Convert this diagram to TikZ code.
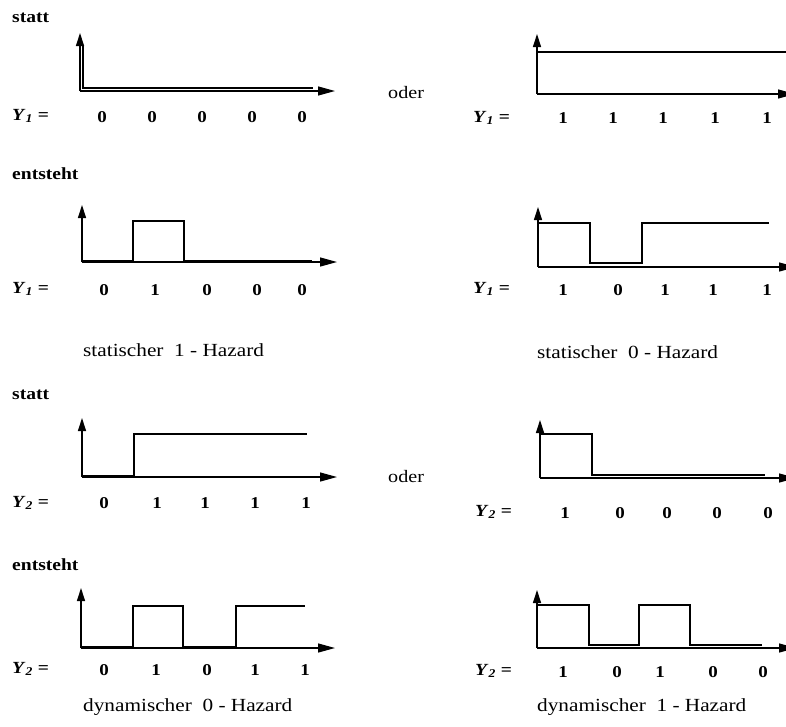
\documentclass[tikz,border=0pt]{standalone}
\usepackage{fontspec}
\setmainfont{Liberation Serif}[FakeStretch=1.15]
\usetikzlibrary{arrows.meta}
\begin{document}
\begin{tikzpicture}[x=1pt,y=-1pt,
  axis/.style={line width=1.3pt},
  xaxis/.style={axis,-{Triangle[length=17pt,width=9pt]}},
  yaxis/.style={axis,-{Triangle[length=13pt,width=8pt]}},
  sig/.style={line width=2pt,line join=miter},
  head/.style={font=\fontsize{17}{17}\selectfont\bfseries,anchor=west,inner sep=0pt},
  oder/.style={font=\fontsize{17.5}{17}\selectfont,anchor=west,inner sep=0pt},
  ylab/.style={font=\fontsize{17}{17}\selectfont\bfseries,anchor=west,inner sep=0pt},
  val/.style={font=\fontsize{16.5}{16}\selectfont\bfseries,inner sep=0pt},
  haz/.style={font=\fontsize{18.5}{18}\selectfont,anchor=west,inner sep=0pt}]
\useasboundingbox (0,0) rectangle (786,726);
% ---------------- Row 1 ----------------
\node[head] (statt1) at (12,18) {statt};
\node[oder] (oder1) at (388,93) {oder};
% left
\draw[yaxis] (80,91) -- (80,33);
\draw[xaxis] (80,91) -- (335,91);
\draw[sig,line width=1.6pt] (83,46) -- (83,88) -- (313,88);
\node[ylab] (y1a) at (12,116) {\textit{Y}\textsubscript{\textit{1}} =};
\foreach \x/\v [count=\i] in {102/0,152/0,202/0,252/0,302/0}
  \node[val] (v1a\i) at (\x,117) {\v};
% right
\draw[yaxis] (537,94) -- (537,34);
\draw[xaxis] (537,94) -- (795,94);
\draw[sig,line width=1.6pt] (537,52) -- (786,52);
\node[ylab] (y1b) at (473,118) {\textit{Y}\textsubscript{\textit{1}} =};
\foreach \x/\v [count=\i] in {563/1,613/1,663/1,715/1,767/1}
  \node[val] (v1b\i) at (\x,118) {\v};
% ---------------- Row 2 ----------------
\node[head] (ent1) at (12,174) {entsteht};
% left
\draw[yaxis] (82,262) -- (82,205);
\draw[xaxis] (82,262) -- (337,262);
\draw[sig] (82,261) -- (133,261) -- (133,221) -- (184,221) -- (184,261) -- (312,261);
\node[ylab] (y2a) at (12,289) {\textit{Y}\textsubscript{\textit{1}} =};
\foreach \x/\v [count=\i] in {104/0,155/1,207/0,257/0,302/0}
  \node[val] (v2a\i) at (\x,290) {\v};
\node[haz] (haz1) at (83,350) {statischer\ \ 1 - Hazard};
% right
\draw[yaxis] (538,267) -- (538,207);
\draw[xaxis] (538,267) -- (796,267);
\draw[sig] (538,223) -- (590,223) -- (590,263) -- (642,263) -- (642,223) -- (769,223);
\node[ylab] (y2b) at (473,289) {\textit{Y}\textsubscript{\textit{1}} =};
\foreach \x/\v [count=\i] in {563/1,618/0,665/1,713/1,767/1}
  \node[val] (v2b\i) at (\x,290) {\v};
\node[haz] (haz2) at (537,352) {statischer\ \ 0 - Hazard};
% ---------------- Row 3 ----------------
\node[head] (statt2) at (12,395) {statt};
\node[oder] (oder2) at (388,477) {oder};
% left
\draw[yaxis] (82,477) -- (82,418);
\draw[xaxis] (82,477) -- (337,477);
\draw[sig] (82,476) -- (134,476) -- (134,434) -- (307,434);
\node[ylab] (y3a) at (12,503) {\textit{Y}\textsubscript{\textit{2}} =};
\foreach \x/\v [count=\i] in {104/0,157/1,205/1,255/1,306/1}
  \node[val] (v3a\i) at (\x,503) {\v};
% right
\draw[yaxis] (540,478) -- (540,420);
\draw[xaxis] (540,478) -- (796,478);
\draw[sig] (540,434) -- (592,434) -- (592,475) -- (765,475);
\node[ylab] (y3b) at (475,512) {\textit{Y}\textsubscript{\textit{2}} =};
\foreach \x/\v [count=\i] in {565/1,620/0,667/0,717/0,768/0}
  \node[val] (v3b\i) at (\x,513) {\v};
% ---------------- Row 4 ----------------
\node[head] (ent2) at (12,565) {entsteht};
% left
\draw[yaxis] (81,648) -- (81,588);
\draw[xaxis] (81,648) -- (335,648);
\draw[sig] (81,647) -- (133,647) -- (133,606) -- (183,606) -- (183,647) -- (236,647) -- (236,606) -- (305,606);
\node[ylab] (y4a) at (12,669) {\textit{Y}\textsubscript{\textit{2}} =};
\foreach \x/\v [count=\i] in {104/0,156/1,207/0,255/1,305/1}
  \node[val] (v4a\i) at (\x,670) {\v};
\node[haz] (haz3) at (83,707) {dynamischer\ \ 0 - Hazard};
% right
\draw[yaxis] (537,648) -- (537,590);
\draw[xaxis] (537,648) -- (796,648);
\draw[sig] (537,605) -- (589,605) -- (589,645) -- (639,645) -- (639,605) -- (690,605) -- (690,645) -- (762,645);
\node[ylab] (y4b) at (475,671) {\textit{Y}\textsubscript{\textit{2}} =};
\foreach \x/\v [count=\i] in {563/1,617/0,660/1,713/0,763/0}
  \node[val] (v4b\i) at (\x,672) {\v};
\node[haz] (haz4) at (537,707) {dynamischer\ \ 1 - Hazard};
\end{tikzpicture}
\end{document}
